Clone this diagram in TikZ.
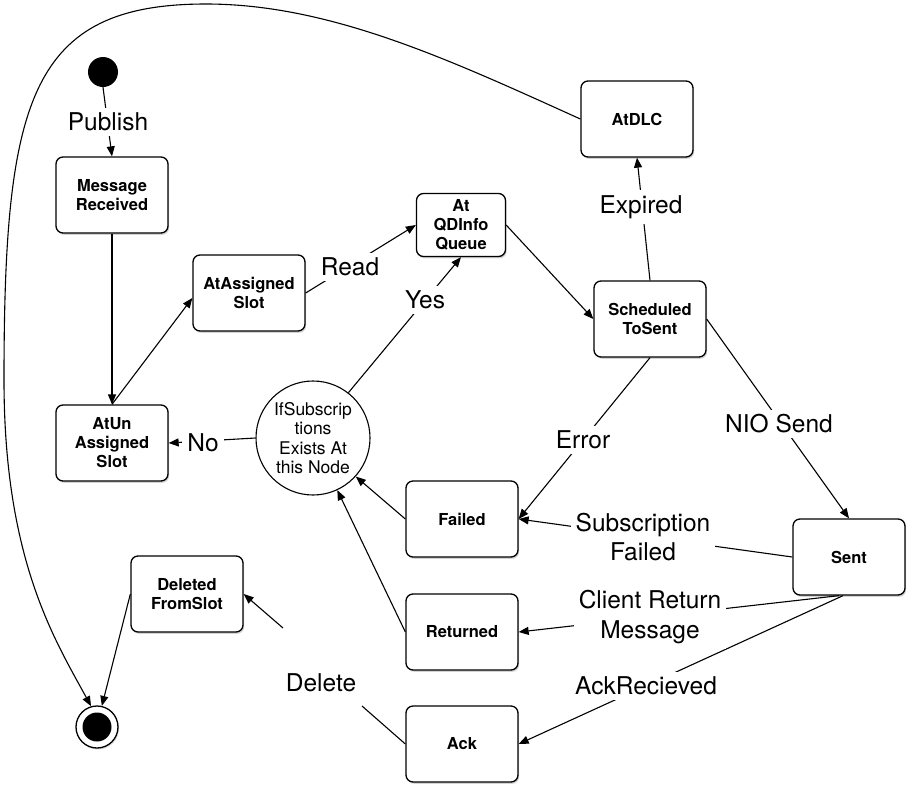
\documentclass[tikz,border=0pt]{standalone}
\usepackage{fontspec}
\setmainfont{TeX Gyre Heros}
\usetikzlibrary{arrows.meta,shadows}
\begin{document}
\begin{tikzpicture}[x=1pt,y=-1pt,
  box/.style={draw, line width=1.3pt, rounded corners=7pt, fill=white,
    minimum width=112pt, minimum height=76pt, inner sep=2pt, align=center,
    font=\fontsize{16.5}{19}\selectfont\bfseries,
    drop shadow={shadow xshift=1.2pt, shadow yshift=-1.8pt, opacity=0.35}},
  arr/.style={-{Triangle[length=10pt,width=8pt]}, line width=1.1pt},
  ln/.style={line width=1.1pt},
  lbl/.style={fill=white, inner sep=5pt, align=center,
    font=\fontsize{24.5}{29.5}\selectfont},
]
\useasboundingbox (0,0) rectangle (913,793);

% states
\node[circle, fill=black, minimum size=30pt, inner sep=0] (start) at (103,72) {};
\node[box] (msg) at (112,195) {Message\\Received};
\node[box] (atun) at (112,443) {AtUn\\Assigned\\Slot};
\node[box] (atas) at (249,293) {AtAssigned\\Slot};
\node[box, minimum width=89pt, minimum height=63pt] (qd) at (461,225) {At\\QDInfo\\Queue};
\node[box] (sched) at (650,319) {Scheduled\\ToSent};
\node[box] (atdlc) at (637,119) {AtDLC};
\node[circle, draw, line width=1.1pt, fill=white, minimum size=114pt, inner sep=0,
  align=center, font=\fontsize{17.5}{19.5}\selectfont] (circ) at (313,438)
  {IfSubscrip\\tions\\Exists At\\this Node};
\node[box] (failed) at (462,519) {Failed};
\node[box] (returned) at (462,632) {Returned};
\node[box] (ack) at (462,744) {Ack};
\node[box] (sent) at (849,557) {Sent};
\node[box] (deleted) at (187,594) {Deleted\\FromSlot};
\node[circle, draw, line width=1.3pt, fill=white, minimum size=42pt, inner sep=0,
  drop shadow={shadow xshift=1pt, shadow yshift=-1.5pt, opacity=0.3}] (endst) at (97,727) {};
\fill (endst.center) circle (14.5pt);

% free ends of the broken Delete connector
\coordinate (delA) at (362,706);
\coordinate (delB) at (283,628);

% connectors
\draw[arr] (start.south) -- (msg.north);
\draw[arr] (msg.south) -- (atun.north);
\draw[arr] (atun.north) -- ([yshift=-5pt]atas.west);
\draw[arr] (atas.east) -- (qd.west);
\draw[arr] (circ.52) -- (qd.south);
\draw[arr] (circ.west) -- (atun.east);
\draw[arr] (qd.east) -- (sched.west);
\draw[arr] (sched.north) -- (atdlc.south);
\draw[arr] (sched.south) -- (failed.east);
\draw[arr] (sched.east) -- (sent.north);
\draw[arr] (sent.west) -- (failed.east);
\draw[arr] ([xshift=-10pt]sent.south) -- (returned.east);
\draw[arr] ([xshift=-6pt]sent.south) -- (ack.east);
\draw[arr] (failed.west) -- (circ.-42);
\draw[arr] (returned.west) -- (circ.-65);
\draw[ln] (ack.west) -- (delA);
\draw[arr] (delB) -- (deleted.east);
\draw[arr] (deleted.west) -- (endst.77);
\draw[arr] (atdlc.west) .. controls (450,60) and (330,4) .. (206,4)
  .. controls (30,4) and (4,100) .. (4,380)
  .. controls (4,560) and (55,640) .. (endst.106);

% labels
\node[lbl] (lpub) at (108,122) {Publish};
\node[lbl] (lread) at (350,267) {Read};
\node[lbl] (lyes) at (425,300) {Yes};
\node[lbl] (lno) at (203,443) {No};
\node[lbl] (lexp) at (641,207) {Expired};
\node[lbl] (lerr) at (583,440) {Error};
\node[lbl] (lnio) at (779,424) {NIO Send};
\node[lbl] (lsub) at (643,537) {Subscription\\Failed};
\node[lbl] (lcli) at (650,617) {Client Return\\Message};
\node[lbl] (lackr) at (646,686) {AckRecieved};
\node[lbl] (ldel) at (321,683) {Delete};
\end{tikzpicture}
\end{document}
